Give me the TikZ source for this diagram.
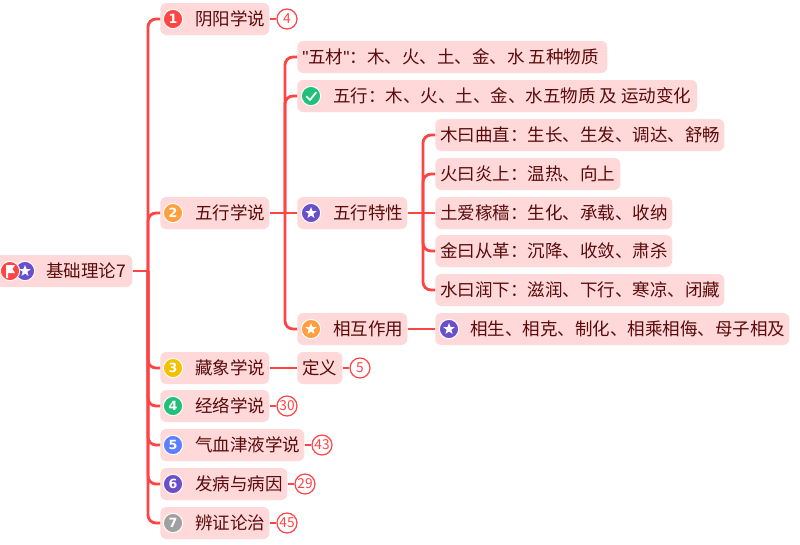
\documentclass[tikz,border=0pt]{standalone}
\usepackage{fontspec}
\setmainfont{Noto Sans CJK SC}
\newfontfamily\digitfont{DejaVu Sans}
\newfontfamily\quotefont{Liberation Sans}
\usetikzlibrary{shapes.geometric}
\definecolor{linkred}{HTML}{FF4444}
\definecolor{boxfill}{HTML}{FFD9D9}
\definecolor{inkred}{HTML}{5A0A0A}
\definecolor{iconred}{HTML}{FF4444}
\definecolor{iconorange}{HTML}{FF9F3F}
\definecolor{iconyellow}{HTML}{F2C200}
\definecolor{icongreen}{HTML}{22C07A}
\definecolor{iconblue}{HTML}{5C7FFF}
\definecolor{iconpurple}{HTML}{6A4FCB}
\definecolor{icongrey}{HTML}{A0A0A0}
\newlength{\pxu}\setlength{\pxu}{0.75pt}
% name, left, right, centre y, text x, text
\newcommand{\topicbox}[6]{\node[topic,anchor=west] (#1) at (#2,#4)
  {\makebox[\dimexpr#3\pxu-#2\pxu\relax][l]{\hspace{\dimexpr#5\pxu-#2\pxu\relax}#6}};}
\tikzset{
  topic/.style={fill=boxfill,text=inkred,rounded corners=4.5pt,inner xsep=0pt,inner ysep=0pt,
    minimum height=24pt,font=\fontsize{13.13pt}{15pt}\selectfont},
  link/.style={draw=linkred,line width=2.1pt},
  branch/.style={link,rounded corners=6pt},
  countmark/.style={circle,draw=linkred,line width=0.9pt,fill=white,text=linkred,inner sep=0pt,
    minimum size=15pt,font=\fontsize{10.3pt}{12pt}\selectfont},
  iconmark/.style={circle,draw=white,line width=0.75pt,fill=#1,text=white,inner sep=0pt,
    minimum size=14.5pt,font=\digitfont\bfseries\fontsize{9.5pt}{11pt}\selectfont},
  starmark/.style={star,star points=5,star point ratio=2.4,fill=white,inner sep=0pt,minimum size=9pt},
}
\begin{document}
\begin{tikzpicture}[x=0.75pt,y=-0.75pt]
\useasboundingbox (0,0) rectangle (800,544);
% topics
\topicbox{root}{-4}{132}{271}{46}{基础理论7}
\topicbox{a1}{160}{269}{19}{195}{阴阳学说}
\topicbox{a2}{160}{269}{213}{195}{五行学说}
\topicbox{a3}{160}{269}{368}{195}{藏象学说}
\topicbox{a4}{160}{269}{406}{195}{经络学说}
\topicbox{a5}{160}{304}{445}{195}{气血津液学说}
\topicbox{a6}{160}{287}{484}{195}{发病与病因}
\topicbox{a7}{160}{269}{523}{195}{辨证论治}
\topicbox{b1}{297}{607}{57}{302}{{\quotefont"}五材{\quotefont"}：木、火、土、金、水 五种物质}
\topicbox{b2}{297}{697}{96}{333}{五行：木、火、土、金、水五物质 及 运动变化}
\topicbox{b3}{297}{407}{213}{333}{五行特性}
\topicbox{b4}{297}{407}{329}{333}{相互作用}
\topicbox{b5}{297}{342}{368}{302}{定义}
\topicbox{c1}{435}{724}{135}{440}{木曰曲直：生长、生发、调达、舒畅}
\topicbox{c2}{435}{620}{174}{440}{火曰炎上：温热、向上}
\topicbox{c3}{435}{672}{213}{440}{土爱稼穑：生化、承载、收纳}
\topicbox{c4}{435}{672}{251}{440}{金曰从革：沉降、收敛、肃杀}
\topicbox{c5}{435}{724}{290}{440}{水曰润下：滋润、下行、寒凉、闭藏}
\topicbox{c6}{435}{789}{329}{470}{相生、相克、制化、相乘相侮、母子相及}
% count marks
\node[countmark] (n1) at (287,19) {4};
\node[countmark] (n3) at (360,368) {5};
\node[countmark] (n4) at (287,406) {30};
\node[countmark] (n5) at (322,445) {43};
\node[countmark] (n6) at (305,484) {29};
\node[countmark] (n7) at (287,523) {45};
% junctions
\coordinate (j1) at (148,271);
\coordinate (j2) at (285,213);
\coordinate (j3) at (423,213);
% connectors
\draw[link] (root.east) -- (j1);
\foreach \t in {a1,a2,a3,a4,a5,a6,a7} \draw[branch] (j1) |- (\t.west);
\draw[link] (a2.east) -- (b3.west);
\foreach \t in {b1,b2,b4} \draw[branch] (j2) |- (\t.west);
\draw[link] (b3.east) -- (c3.west);
\foreach \t in {c1,c2,c4,c5} \draw[branch] (j3) |- (\t.west);
\draw[link] (b4.east) -- (c6.west);
\draw[link] (a3.east) -- (b5.west);
\draw[link] (a1.east) -- (n1.west);
\draw[link] (b5.east) -- (n3.west);
\draw[link] (a4.east) -- (n4.west);
\draw[link] (a5.east) -- (n5.west);
\draw[link] (a6.east) -- (n6.west);
\draw[link] (a7.east) -- (n7.west);
% number icons
\node[iconmark=iconred] (i1) at (173,19) {1};
\node[iconmark=iconorange] (i2) at (173,213) {2};
\node[iconmark=iconyellow] (i3) at (173,368) {3};
\node[iconmark=icongreen] (i4) at (173,406) {4};
\node[iconmark=iconblue] (i5) at (173,445) {5};
\node[iconmark=iconpurple] (i6) at (173,484) {6};
\node[iconmark=icongrey] (i7) at (173,523) {7};
% root icons
\node[iconmark=iconpurple] (rs) at (25,271) {};
\node[starmark] (rss) at (25,271) {};
\node[iconmark=iconred] (rf) at (10,271) {};
\fill[white] (6,265) -- (15,265) -- (12.5,269) -- (15,273) -- (8,273) -- (8,278) -- (6,278) -- cycle;
% other icons
\node[iconmark=icongreen] (i8) at (311,96) {};
\draw[white,line width=1.3pt,line cap=round,line join=round] (306.5,96.5) -- (310,100) -- (316,92.5);
\node[iconmark=iconpurple] (i9) at (311,213) {};
\node[starmark] (i9s) at (311,213) {};
\node[iconmark=iconorange] (i10) at (311,329) {};
\node[starmark] (i10s) at (311,329) {};
\node[iconmark=iconpurple] (i11) at (449,329) {};
\node[starmark] (i11s) at (449,329) {};
\end{tikzpicture}
\end{document}
